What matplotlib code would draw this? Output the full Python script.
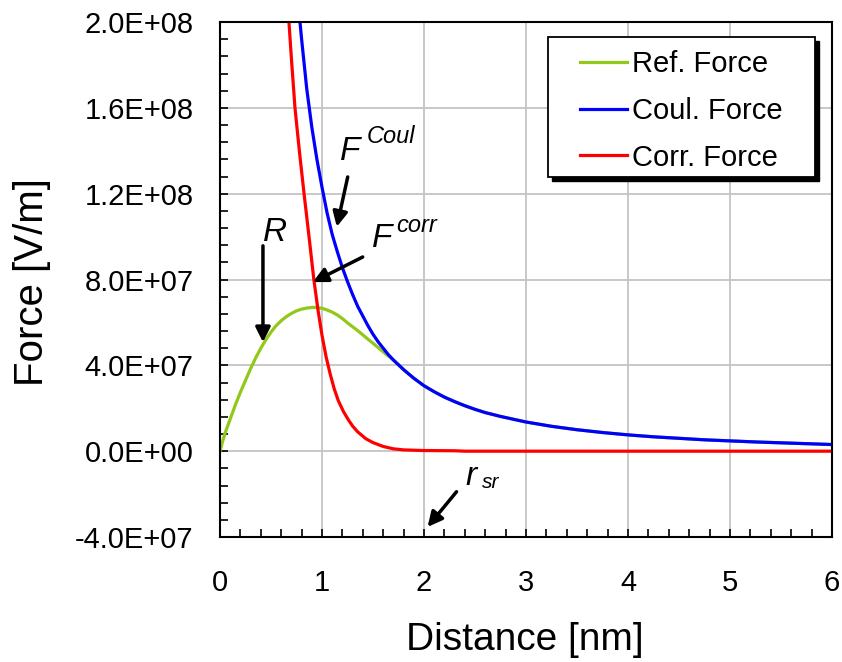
import matplotlib
matplotlib.use("Agg")
import matplotlib.pyplot as plt
from matplotlib.patches import Rectangle
from matplotlib.ticker import MultipleLocator, FuncFormatter

plt.rcParams['font.family'] = ['Liberation Sans', 'DejaVu Sans']

# Distance in nm, forces in V/m
ref_x = [0.0, 0.025, 0.05, 0.10, 0.15, 0.20, 0.25, 0.30, 0.35, 0.40, 0.45, 0.50,
         0.55, 0.60, 0.65, 0.70, 0.75, 0.80, 0.85, 0.90, 0.95, 1.00, 1.05, 1.10,
         1.15, 1.20, 1.25, 1.30, 1.35, 1.40, 1.45, 1.50, 1.55, 1.60, 1.65, 1.70,
         1.80, 1.90, 2.00, 2.10, 2.20, 2.30, 2.40, 2.50, 2.60, 2.75, 3.00, 3.25,
         3.50, 3.75, 4.00, 4.25, 4.50, 4.75, 5.00, 5.25, 5.50, 5.75, 6.00]
ref_force = [0.0, 0.45e7, 0.85e7, 1.50e7, 2.15e7, 2.75e7, 3.30e7, 3.85e7, 4.35e7,
             4.80e7, 5.20e7, 5.55e7, 5.85e7, 6.08e7, 6.27e7, 6.42e7, 6.54e7,
             6.62e7, 6.67e7, 6.70e7, 6.70e7, 6.66e7, 6.58e7, 6.48e7, 6.35e7,
             6.18e7, 5.98e7, 5.80e7, 5.62e7, 5.42e7, 5.22e7, 5.03e7, 4.83e7,
             4.63e7, 4.44e7, 4.25e7, 3.80e7, 3.40e7, 3.05e7, 2.77e7, 2.52e7,
             2.31e7, 2.12e7, 1.95e7, 1.80e7, 1.62e7, 1.36e7, 1.16e7, 1.00e7,
             0.87e7, 0.76e7, 0.67e7, 0.60e7, 0.53e7, 0.48e7, 0.43e7, 0.39e7,
             0.35e7, 0.31e7]

coul_x = [0.784, 0.80, 0.85, 0.90, 0.95, 1.00, 1.05, 1.10, 1.15, 1.20, 1.25,
          1.30, 1.35, 1.40, 1.45, 1.50, 1.55, 1.60, 1.65, 1.70, 1.80, 1.90,
          2.00, 2.10, 2.20, 2.30, 2.40, 2.50, 2.60, 2.75, 3.00, 3.25, 3.50,
          3.75, 4.00, 4.25, 4.50, 4.75, 5.00, 5.25, 5.50, 5.75, 6.00]
coul_force = [20.0e7, 19.2e7, 16.9e7, 15.1e7, 13.6e7, 12.3e7, 11.1e7, 10.1e7,
              9.3e7, 8.55e7, 7.9e7, 7.3e7, 6.75e7, 6.3e7, 5.85e7, 5.45e7,
              5.1e7, 4.8e7, 4.5e7, 4.25e7, 3.80e7, 3.40e7, 3.05e7, 2.77e7,
              2.52e7, 2.31e7, 2.12e7, 1.95e7, 1.80e7, 1.62e7, 1.36e7, 1.16e7,
              1.00e7, 0.87e7, 0.76e7, 0.67e7, 0.60e7, 0.53e7, 0.48e7, 0.43e7,
              0.39e7, 0.35e7, 0.31e7]

corr_x = [0.676, 0.70, 0.735, 0.78, 0.824, 0.875, 0.92, 0.96, 1.00, 1.04, 1.08,
          1.12, 1.16, 1.21, 1.26, 1.30, 1.35, 1.43, 1.50, 1.60, 1.70, 1.80,
          2.00, 2.30, 2.40, 3.00, 4.00, 5.00, 6.00]
corr_force = [20.0e7, 18.3e7, 16.0e7, 13.9e7, 12.0e7, 9.9e7, 8.0e7, 6.6e7,
              5.4e7, 4.4e7, 3.6e7, 2.9e7, 2.35e7, 1.85e7, 1.45e7, 1.17e7,
              0.90e7, 0.58e7, 0.40e7, 0.22e7, 0.11e7, 0.06e7, 0.03e7, 0.02e7,
              0.0, 0.0, 0.0, 0.0, 0.0]

series_labels = ['Ref. Force', 'Coul. Force', 'Corr. Force']
series_colors = ['#92C81A', '#0000FF', '#FF0000']

fig = plt.figure(figsize=(8.42, 6.62), dpi=100)
ax = fig.add_axes([0.2613, 0.1888, 0.7268, 0.7779])

ax.plot(ref_x, ref_force, color=series_colors[0], lw=2.3, label=series_labels[0])
ax.plot(coul_x, coul_force, color=series_colors[1], lw=2.3, label=series_labels[1])
ax.plot(corr_x, corr_force, color=series_colors[2], lw=2.3, label=series_labels[2])

ax.set_xlim(0, 6)
ax.set_ylim(-4e7, 2e8)
ax.xaxis.set_major_locator(MultipleLocator(1))
ax.xaxis.set_minor_locator(MultipleLocator(0.2))
ax.yaxis.set_major_locator(MultipleLocator(4e7))
ax.yaxis.set_minor_locator(MultipleLocator(8e6))
ax.yaxis.set_major_formatter(FuncFormatter(lambda v, p: f"{v:.1E}"))
ax.xaxis.set_major_formatter(FuncFormatter(lambda v, p: f"{v:g}"))

ax.tick_params(axis='both', which='both', direction='in', length=6, width=1.2,
               top=False, right=False, labelsize=21, colors='black')
ax.tick_params(axis='y', which='major', pad=19)
ax.tick_params(axis='x', which='major', pad=23)

ax.grid(True, which='major', color='#C4C4C4', lw=1.3)
ax.set_axisbelow(True)
for side, sp in ax.spines.items():
    sp.set_color('black')
    sp.set_linewidth(1.5)

ax.set_xlabel('Distance [nm]', fontsize=28)
ax.set_ylabel('Force [V/m]', fontsize=29)
ax.xaxis.set_label_coords(0.498, -0.20)
ax.xaxis.label.set(va='center', ha='center')
ax.yaxis.set_label_coords(-0.307, 0.495)
ax.yaxis.label.set(va='center', ha='center')

# Legend box with a hard black drop shadow
box_x0, box_y0, box_x1, box_y1 = 0.536, 0.699, 0.972, 0.971
shadow = Rectangle((box_x0 + 0.0065, box_y0 - 0.0078), box_x1 - box_x0, box_y1 - box_y0,
                   transform=ax.transAxes, facecolor='black', edgecolor='black',
                   zorder=4, clip_on=False)
frame = Rectangle((box_x0, box_y0), box_x1 - box_x0, box_y1 - box_y0,
                  transform=ax.transAxes, facecolor='white', edgecolor='black',
                  lw=1.3, zorder=4.1, clip_on=False)
ax.add_patch(shadow)
ax.add_patch(frame)
leg = ax.legend(loc='upper left', bbox_to_anchor=(0.588, 0.945), borderaxespad=0,
                borderpad=0, fontsize=21, frameon=False, handlelength=1.6,
                handletextpad=0.2, labelspacing=0.64)
leg.set_zorder(5)

arrow = dict(arrowstyle='-|>', color='black', lw=2.5, mutation_scale=22,
             shrinkA=0, shrinkB=0)

# F^Coul label and arrow
ax.text(1.174, 1.359e8, 'F', fontsize=24, style='italic', ha='left', va='baseline')
ax.text(1.438, 1.434e8, 'Coul', fontsize=17, style='italic', ha='left', va='baseline')
ax.annotate('', xy=(1.145, 1.046e8), xytext=(1.252, 1.278e8), arrowprops=arrow)

# F^corr label and arrow
ax.text(1.487, 0.952e8, 'F', fontsize=24, style='italic', ha='left', va='baseline')
ax.text(1.732, 1.022e8, 'corr', fontsize=17, style='italic', ha='left', va='baseline')
ax.annotate('', xy=(0.910, 0.788e8), xytext=(1.399, 0.905e8), arrowprops=arrow)

# R label and arrow
ax.text(0.421, 0.980e8, 'R', fontsize=24, style='italic', ha='left', va='baseline')
ax.annotate('', xy=(0.421, 0.508e8), xytext=(0.421, 0.957e8), arrowprops=arrow)

# r_sr label and arrow
ax.text(2.407, -0.157e8, 'r', fontsize=24, style='italic', ha='left', va='baseline')
ax.text(2.573, -0.171e8, 'sr', fontsize=15, style='italic', ha='left', va='baseline')
ax.annotate('', xy=(2.035, -0.353e8), xytext=(2.319, -0.189e8), arrowprops=arrow)

fig.savefig('out.png', dpi=100)
